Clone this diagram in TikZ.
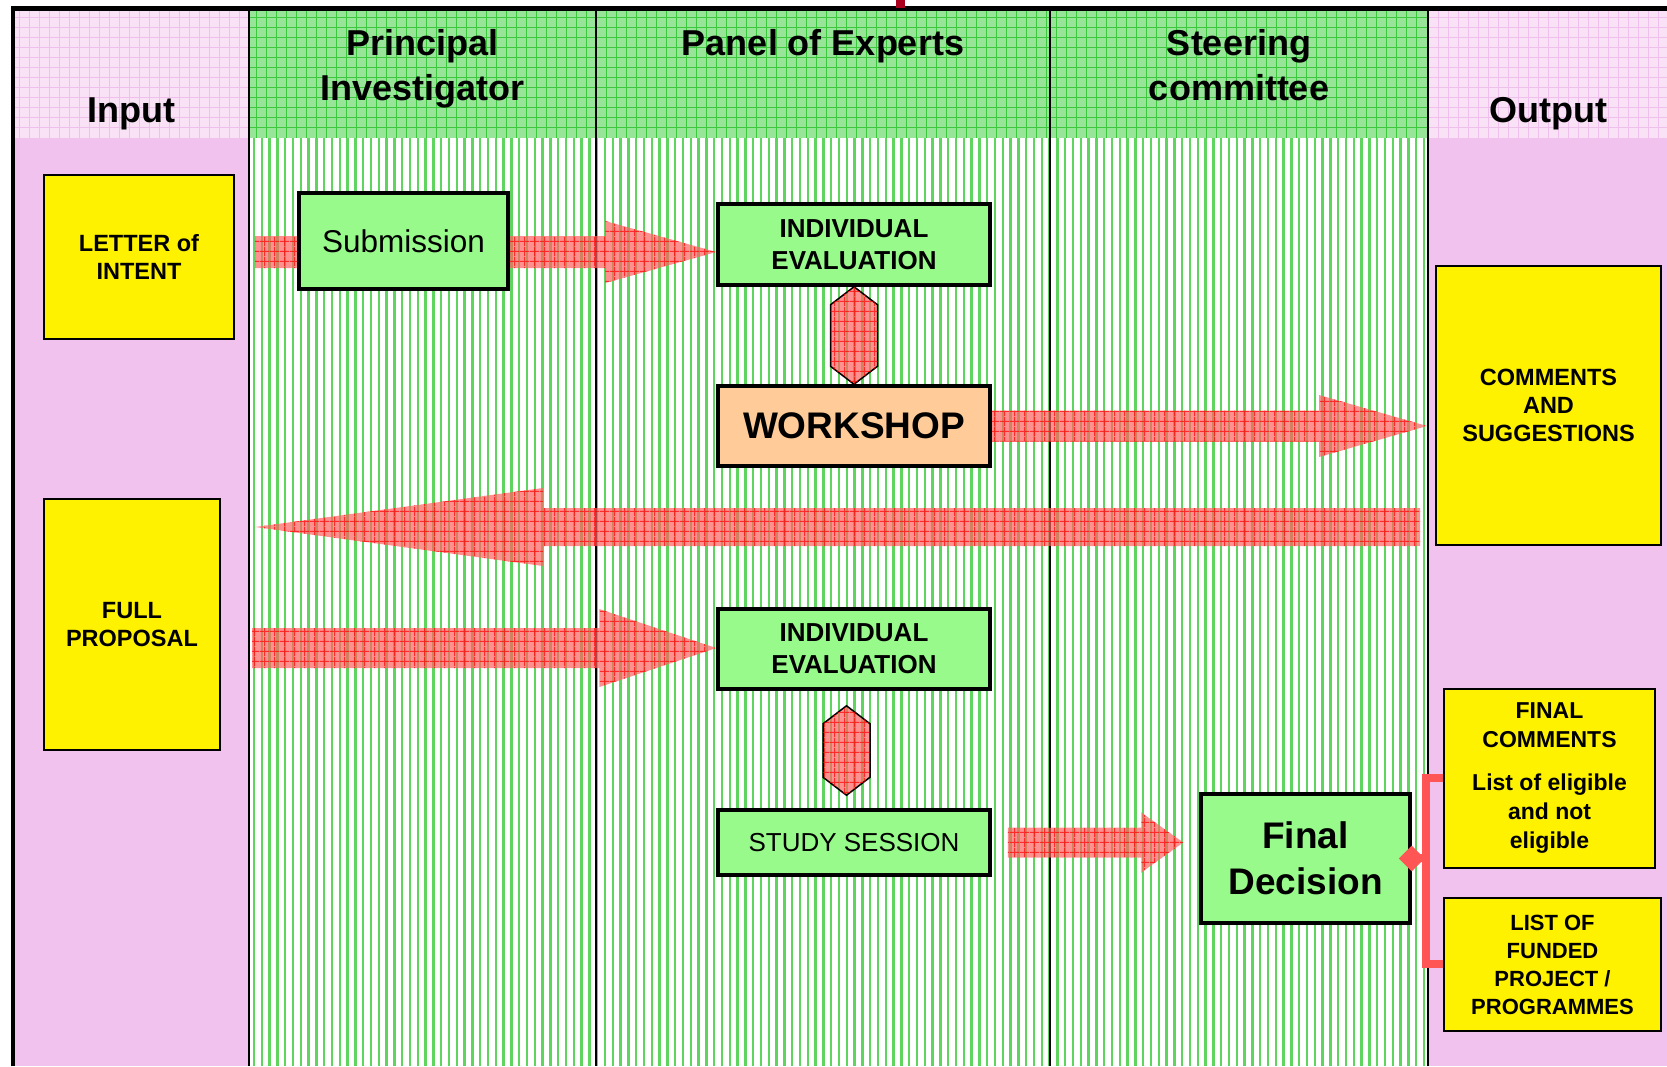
\documentclass[tikz,border=0pt]{standalone}
\usepackage{fontspec}
\setmainfont{Liberation Sans}
\usetikzlibrary{calc,backgrounds,shapes.geometric,patterns.meta}

\definecolor{lanepink}{RGB}{242,194,238}
\definecolor{headpink}{RGB}{250,226,246}
\definecolor{headpinkline}{RGB}{240,192,236}
\definecolor{headgreen}{RGB}{152,228,152}
\definecolor{headgreenline}{RGB}{60,200,60}
\definecolor{stripegreen}{RGB}{95,212,95}
\definecolor{boxgreen}{RGB}{152,250,138}
\definecolor{peach}{RGB}{255,204,153}
\definecolor{bracketred}{RGB}{255,85,85}
\definecolor{tickred}{RGB}{170,0,30}

\tikzdeclarepattern{
  name=redgrid,
  type=uncolored,
  bounding box={(0,0) and (10pt,10pt)},
  tile size={(10pt,10pt)},
  code={\draw[line width=1pt] (0,5pt) -- (10pt,5pt) (5pt,0) -- (5pt,10pt);}
}

\tikzset{
  box/.style={draw, line width=3.5pt, fill=boxgreen, align=center, inner sep=0pt},
  note/.style={draw, line width=1.5pt, fill=yellow, align=center, inner sep=0pt,
    font=\bfseries\fontsize{23.5}{28}\selectfont},
  head/.style={align=center, anchor=base, inner sep=0pt,
    font=\bfseries\fontsize{36}{45}\selectfont},
  arrowfill/.style={fill=red!62, fill opacity=0.7,
    postaction={pattern=redgrid, pattern color=red}},
  hexfill/.style={arrowfill, draw=black, line width=1.5pt},
  bracket/.style={draw=bracketred, line width=8pt}
}

% block arrow: start, tip, half shaft, half head, head length
\newcommand\blockarrow[5]{\path[arrowfill] let \p1=(#1), \p2=(#2) in
  ({\x1},{\y1+(#3)}) -- ({\x2-(#5)},{\y1+(#3)}) -- ({\x2-(#5)},{\y1+(#4)})
  -- ({\x2},{\y1}) -- ({\x2-(#5)},{\y1-(#4)}) -- ({\x2-(#5)},{\y1-(#3)})
  -- ({\x1},{\y1-(#3)}) -- cycle;}
% two-way hexagon between two points
\newcommand\hexlink[2]{\path[hexfill] let \p1=(#1), \p2=(#2) in
  ({\x1},{\y1}) -- ({\x1+23.5pt},{\y1-18pt}) -- ({\x1+23.5pt},{\y2+18pt})
  -- ({\x1},{\y2}) -- ({\x1-23.5pt},{\y2+18pt}) -- ({\x1-23.5pt},{\y1-18pt}) -- cycle;}

\begin{document}
\begin{tikzpicture}[x=1pt,y=-1pt]
\useasboundingbox (0,0) rectangle (1667,1066);

\begin{scope}[on background layer]
% lanes
\fill[lanepink] (13,138) rectangle (249,1066);
\fill[lanepink] (1428,138) rectangle (1667,1066);
\fill[headpink] (13,8) rectangle (249,138);
\fill[headpink] (1428,8) rectangle (1667,138);
\fill[headgreen] (249,8) rectangle (1428,138);
\foreach \x in {19,29,...,245} \draw[headpinkline,line width=1pt] (\x,8) -- (\x,138);
\foreach \x in {1438,1448,...,1667} \draw[headpinkline,line width=1pt] (\x,8) -- (\x,138);
\foreach \x in {256,266,...,1425} \draw[headgreenline,line width=1pt] (\x,8) -- (\x,138);
\foreach \y in {17,27,...,134} {
  \draw[headpinkline,line width=1pt] (13,\y) -- (249,\y);
  \draw[headpinkline,line width=1pt] (1428,\y) -- (1667,\y);
  \draw[headgreenline,line width=1pt] (249,\y) -- (1428,\y);
}
\foreach \x in {254,261.8,...,1425} \draw[stripegreen,line width=2.4pt] (\x,138) -- (\x,1066);
% lane borders
\foreach \x in {249,596,1050,1428} \draw[line width=2pt] (\x,8) -- (\x,1066);
\draw[line width=4.5pt] (12.8,1066) -- (12.8,8.5) -- (1667,8.5);
\fill[tickred] (896,0) rectangle (905,8);
\end{scope}

% headers
\node[head] (hin) at (131,122) {Input};
\node[head] (hpi) at (422.5,100) {Principal\\Investigator};
\node[head] (hpe) at (823,55) {Panel of Experts};
\node[head] (hsc) at (1239,100) {Steering\\committee};
\node[head] (hout) at (1548,122) {Output};

% boxes
\node[note, minimum width=190pt, minimum height=164pt] (letter) at (139,257) {LETTER of\\INTENT};
\node[box, minimum width=209pt, minimum height=96pt, font=\fontsize{31.5}{38}\selectfont] (sub) at (403.5,241) {Submission};
\node[box, minimum width=272pt, minimum height=81pt, font=\bfseries\fontsize{26}{32}\selectfont] (ie1) at (854,244.5) {INDIVIDUAL\\EVALUATION};
\node[box, fill=peach, minimum width=272pt, minimum height=80pt, font=\bfseries\fontsize{37}{44}\selectfont] (ws) at (854,426) {WORKSHOP};
\node[note, minimum width=225pt, minimum height=279pt] (comments) at (1548.5,405.5) {COMMENTS\\AND\\SUGGESTIONS};
\node[note, minimum width=176pt, minimum height=251pt] (full) at (132,624.5) {FULL\\PROPOSAL};
\node[box, minimum width=272pt, minimum height=80pt, font=\bfseries\fontsize{26}{32}\selectfont] (ie2) at (854,649) {INDIVIDUAL\\EVALUATION};
\node[box, minimum width=272pt, minimum height=65pt, font=\fontsize{26}{32}\selectfont] (study) at (854,842.5) {STUDY SESSION};
\node[box, minimum width=209pt, minimum height=129pt, font=\bfseries\fontsize{37}{46}\selectfont] (final) at (1305.5,858.5) {Final\\Decision};
\node[note, minimum width=211pt, minimum height=179pt, font=\bfseries\fontsize{23}{29}\selectfont] (fincomm) at (1549.5,778.5) {FINAL\\COMMENTS\\[14pt]List of eligible\\and not\\eligible};
\node[note, minimum width=217pt, minimum height=133pt, font=\bfseries\fontsize{22}{28}\selectfont] (funded) at (1552.5,964.5) {LIST OF\\FUNDED\\PROJECT /\\PROGRAMMES};

% flow arrows
\begin{scope}[on background layer]
\coordinate (loi) at (255,252);
\coordinate (cs) at (1427,424);
\coordinate (rev) at (1420,527);
\coordinate (piret) at (255,527);
\coordinate (fp) at (252,648);
\blockarrow{loi}{ie1.west |- loi}{16pt}{31pt}{111pt}
\blockarrow{ws.east}{cs}{15.5pt}{31pt}{108pt}
\blockarrow{rev}{piret}{19pt}{39pt}{-288pt}
\blockarrow{fp}{ie2.west |- fp}{20pt}{39pt}{117pt}
\blockarrow{$(study.east)+(16,0)$}{$(final.west)+(-16,0)$}{15pt}{30pt}{42pt}
\end{scope}

% exchange between steps
\hexlink{ie1.south}{ws.north}
\hexlink{$(ie2.south)+(-7.5,15)$}{$(study.north)+(-7.5,-13)$}

% outputs of the decision
\coordinate (brk) at (1426,858);
\draw[bracket] (final.east) -- (brk);
\draw[bracket] (fincomm.west |- 0,778) -| (brk) |- (funded.west |- 0,964);
\node[diamond, fill=bracketred, minimum width=26pt, minimum height=26pt, inner sep=0pt] (knot) at (final.east) {};
\end{tikzpicture}
\end{document}
